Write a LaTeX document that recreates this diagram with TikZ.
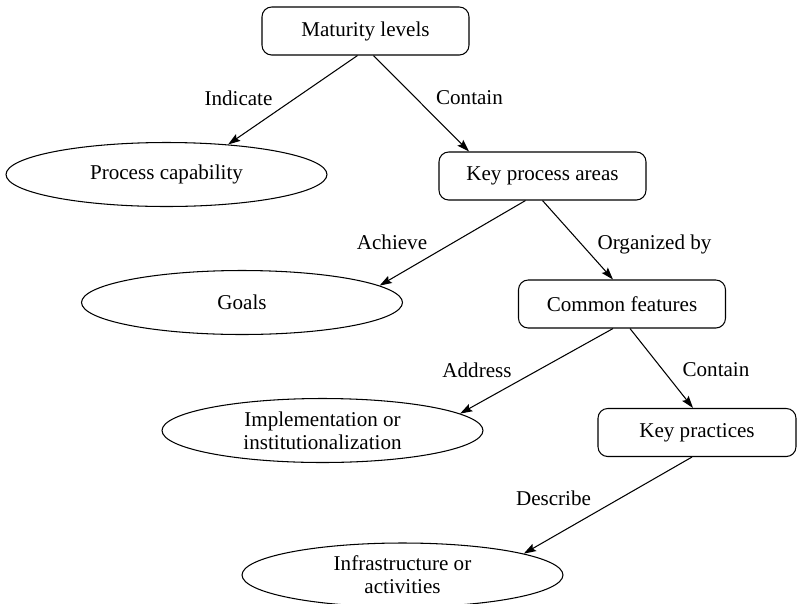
\documentclass[tikz,border=0pt]{standalone}
\usepackage{fontspec}
\setmainfont{Liberation Serif}
\usepackage{tikz}
\usetikzlibrary{
  arrows.meta,
  shapes.geometric
}

\begin{document}
\begin{tikzpicture}[
  x=0.02cm, y=-0.02cm, line width=0.6pt,
  level/.style={draw, rounded corners=5.5pt, minimum width=4.14cm, minimum height=0.96cm, inner sep=2pt, font=\fontsize{12}{13.2}\selectfont},
  outcome/.style={ellipse, draw, minimum width=6.42cm, minimum height=1.28cm, inner sep=1pt, align=center, font=\fontsize{12}{13.2}\selectfont},
  rel/.style={inner sep=1pt, font=\fontsize{12}{13.2}\selectfont},
  arrow/.style={-{Stealth[length=7pt,width=4.6pt,inset=1.2pt]}}
]
  \fill[white] (0,0) rectangle (799,603);
  \useasboundingbox (0,0) rectangle (799,603);
  \clip (0,0) rectangle (799,603);

  % Levels (boxes)
  \node[level] (mat) at (365.5,31) {Maturity levels};
  \node[level] (kpa) at (542.5,176) {Key process areas};
  \node[level] (cf) at (622,304) {Common features};
  \node[level, minimum width=3.96cm] (kp) at (697,432.5) {Key practices};

  % Outcomes (ellipses)
  \node[outcome] (pc) at (166.5,174.5) {Process capability};
  \node[outcome] (goals) at (242,302.5) {Goals};
  \node[outcome] (impl) at (322.5,430.5) {Implementation or\\institutionalization};
  \node[outcome] (infra) at (402.5,575) {Infrastructure or\\activities};

  % Relations
  \draw[arrow] ([xshift=-0.16cm]mat.south) -- (pc.26);
  \draw[arrow] ([xshift=0.16cm]mat.south) -- ([xshift=-1.47cm]kpa.north);
  \draw[arrow] ([xshift=-0.34cm]kpa.south) -- (goals.7);
  \draw[arrow] (kpa.south) -- ([xshift=-0.18cm]cf.north);
  \draw[arrow] ([xshift=-0.18cm]cf.south) -- (impl.7);
  \draw[arrow] ([xshift=0.16cm]cf.south) -- ([xshift=-0.08cm]kp.north);
  \draw[arrow] ([xshift=-0.1cm]kp.south) -- (infra.10);

  % Relation labels
  \node[rel] (indicate) at (238.5,98) {Indicate};
  \node[rel] (contain1) at (469.5,98) {Contain};
  \node[rel] (achieve) at (392,242) {Achieve};
  \node[rel] (orgby) at (654.5,244) {Organized by};
  \node[rel] (address) at (477,370) {Address};
  \node[rel] (contain2) at (716,370) {Contain};
  \node[rel] (describe) at (553.5,498) {Describe};
\end{tikzpicture}
\end{document}
